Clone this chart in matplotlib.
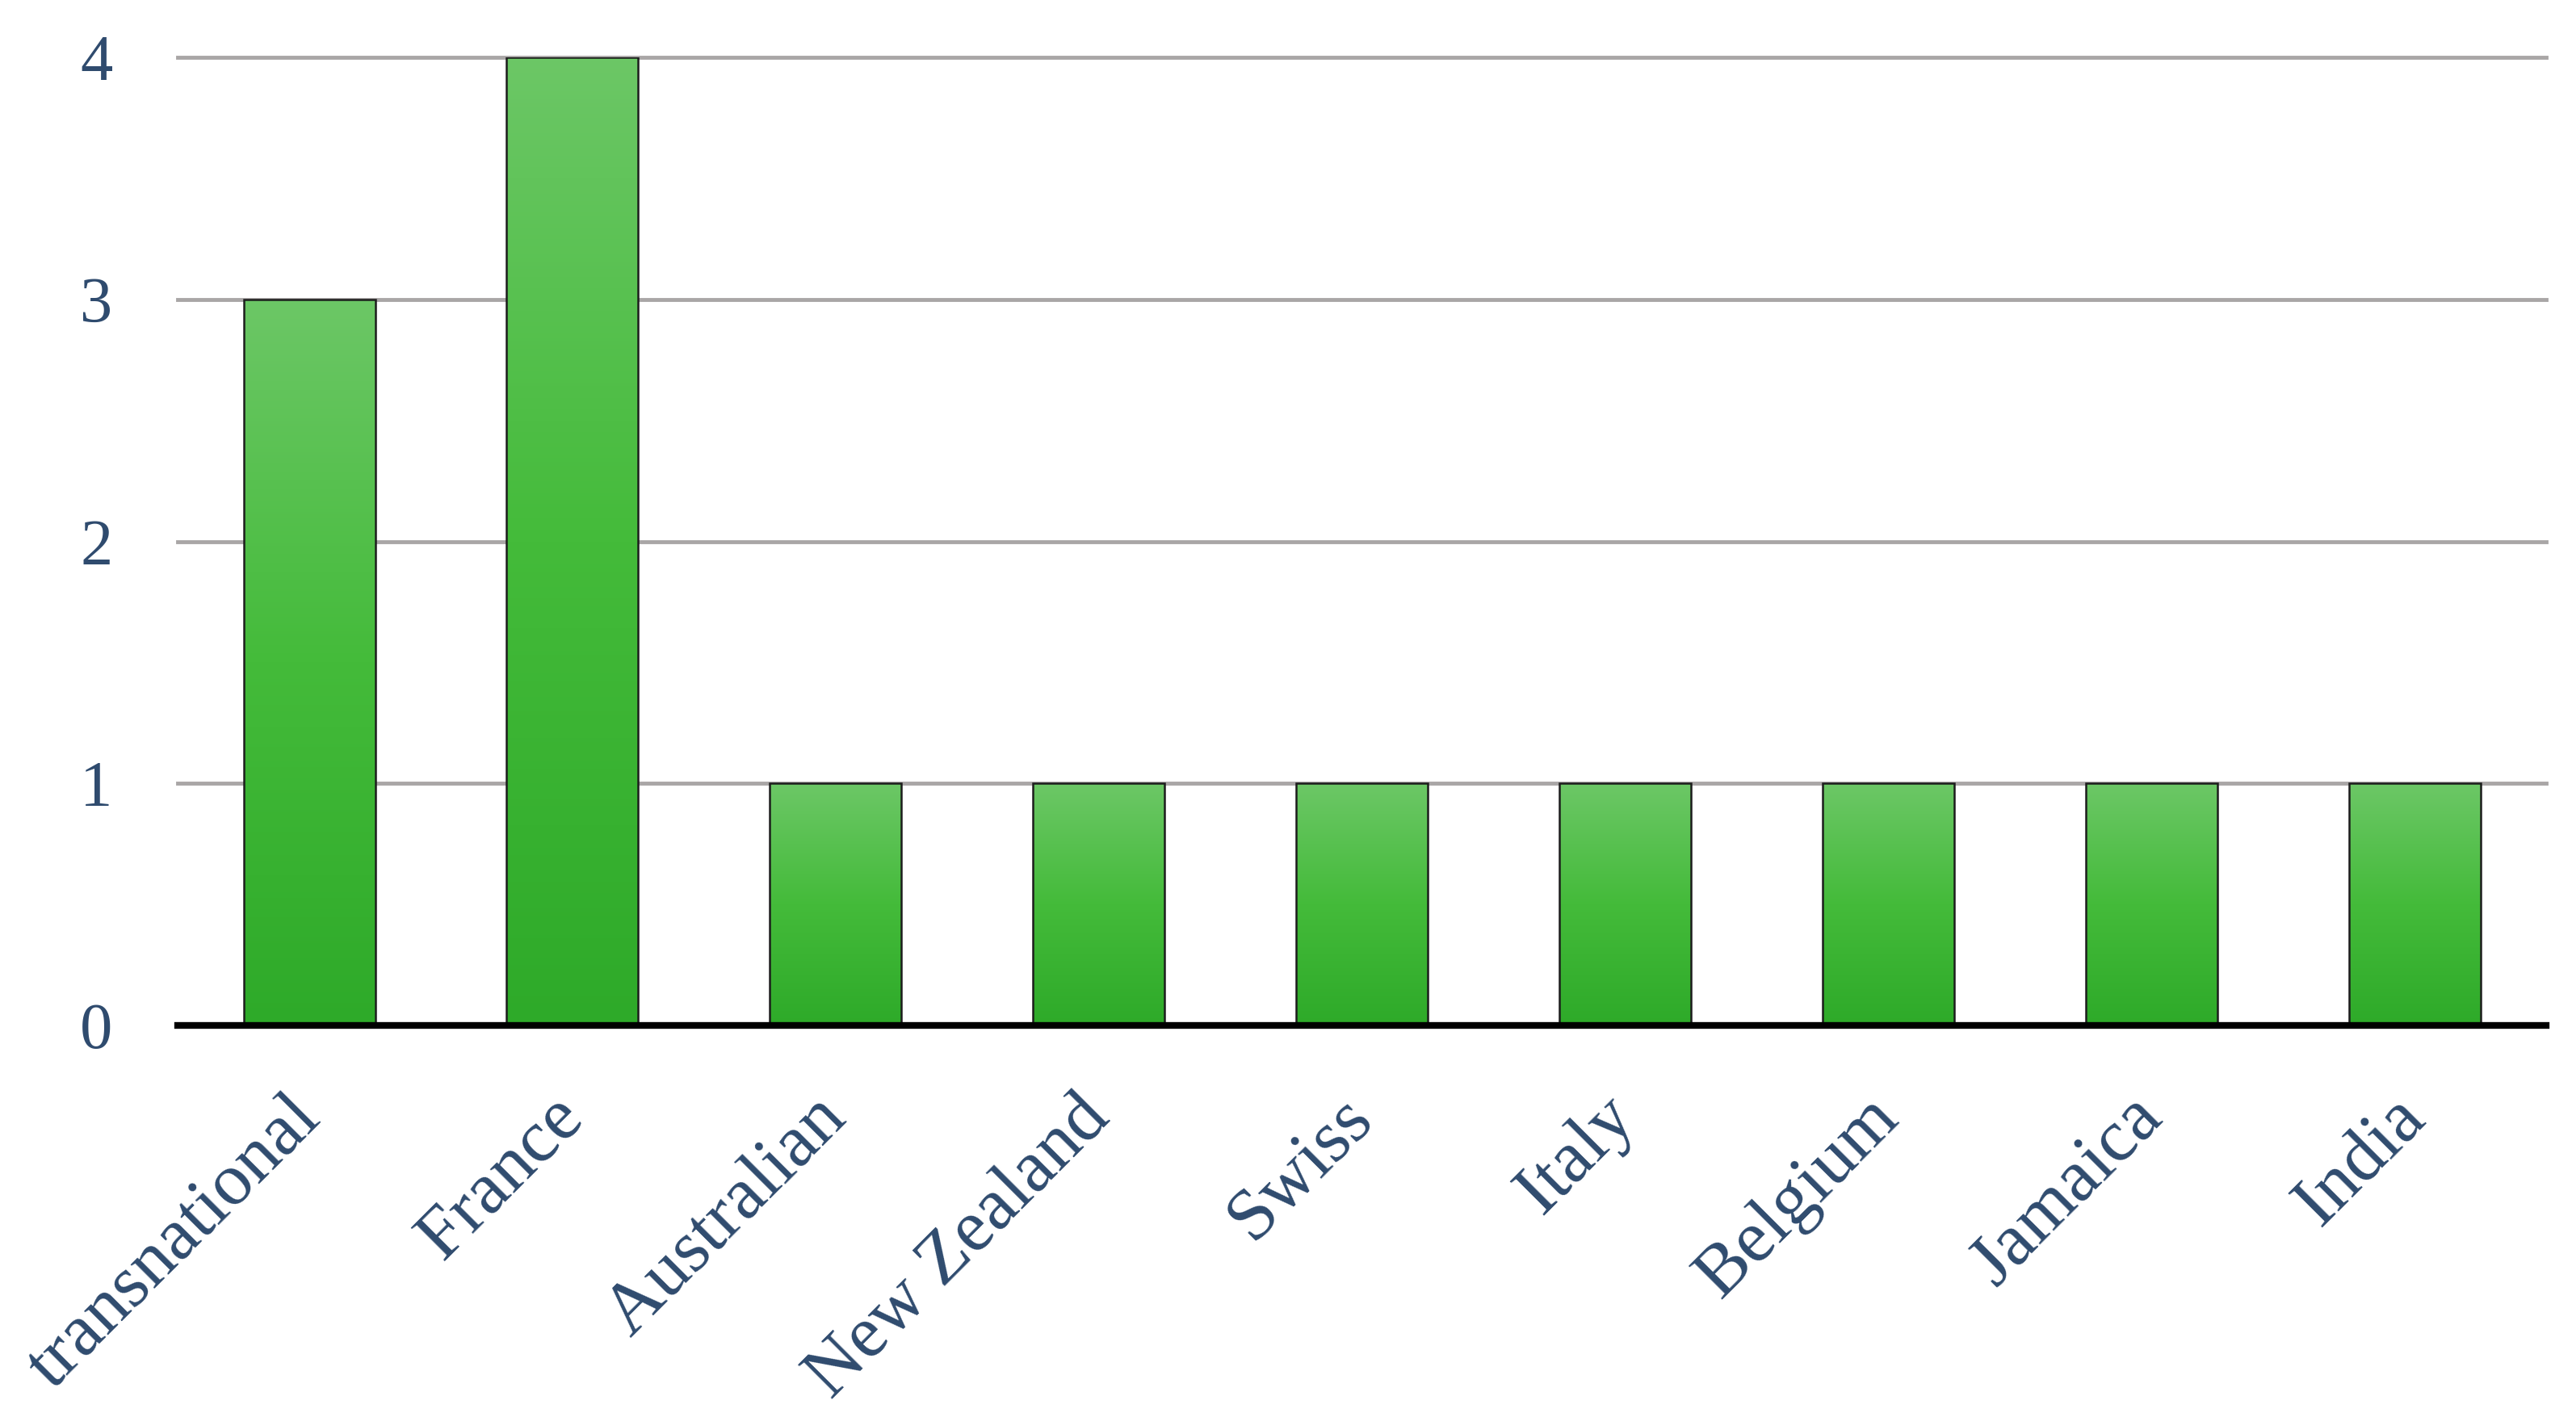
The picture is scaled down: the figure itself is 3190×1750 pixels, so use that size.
import numpy as np
import matplotlib
matplotlib.use("Agg")
import matplotlib.pyplot as plt
from matplotlib.colors import LinearSegmentedColormap

# data
categories = ["transnational", "France", "Australian", "New Zealand", "Swiss",
              "Italy", "Belgium", "Jamaica", "India"]
counts = [3, 4, 1, 1, 1, 1, 1, 1, 1]
y_ticks = [0, 1, 2, 3, 4]

text_color = "#2f4b6e"
plt.rcParams["font.family"] = ["Liberation Serif", "DejaVu Serif"]

fig = plt.figure(figsize=(31.9, 17.5), dpi=100)
ax = fig.add_axes([0.069, 0.2743, 0.9194, 0.6851])

x = np.arange(len(categories))
bars = ax.bar(x, counts, width=0.5, color="none", edgecolor="#1c1c1c",
              linewidth=1.8, zorder=4)

# vertical green gradient inside each bar (light at top, darker at bottom)
green = LinearSegmentedColormap.from_list("g", ["#2eaa29", "#44bb3a", "#6cc766"])
grad = np.linspace(0, 1, 256).reshape(-1, 1)
for b in bars:
    x0, y0 = b.get_x(), b.get_y()
    w, h = b.get_width(), b.get_height()
    im = ax.imshow(grad, cmap=green, origin="lower", aspect="auto",
                   extent=(x0, x0 + w, y0, y0 + h), zorder=3)
    im.set_clip_path(b)

ax.set_xlim(-0.5, len(categories) - 0.5)
ax.set_ylim(0, 4)
ax.set_yticks(y_ticks)
ax.set_yticklabels([str(t) for t in y_ticks])
ax.set_xticks(x)
ax.set_xticklabels(categories)

for yv in y_ticks[1:]:
    ax.axhline(yv, color="#a9a6a6", linewidth=3.5, zorder=1, clip_on=False)

for s in ["top", "right", "left"]:
    ax.spines[s].set_visible(False)
ax.spines["bottom"].set_linewidth(6)
ax.spines["bottom"].set_color("black")
ax.spines["bottom"].set_zorder(5)

ax.tick_params(axis="y", length=0, pad=58, labelsize=58, labelcolor=text_color)
ax.tick_params(axis="x", length=0, pad=73, labelsize=66, labelcolor=text_color)
plt.setp(ax.get_xticklabels(), rotation=45, ha="right", va="center",
         rotation_mode="anchor")

fig.savefig("out.png", dpi=100)
